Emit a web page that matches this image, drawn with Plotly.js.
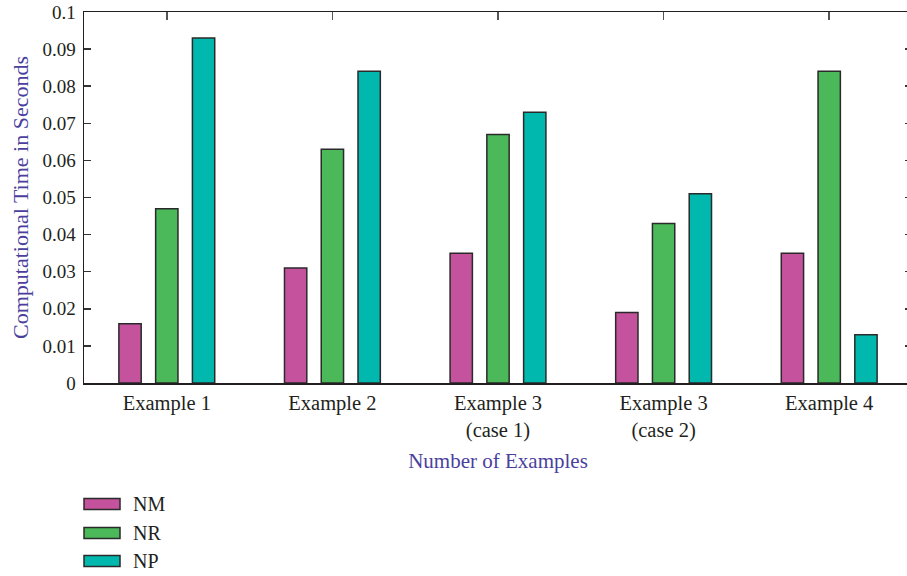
<!DOCTYPE html>
<html>
<head>
<meta charset="utf-8">
<script src="https://cdn.plot.ly/plotly-3.0.1.min.js"></script>
<style>
html,body{margin:0;padding:0;overflow:hidden;background:#fff;}
#chart{width:912px;height:576px;}
</style>
</head>
<body>
<div id="chart"></div>
<script>
const categories = ["Example 1", "Example 2", "Example 3<br>(case 1)", "Example 3<br>(case 2)", "Example 4"];
const seriesNames = ["NM", "NR", "NP"];
const nmValues = [0.016, 0.031, 0.035, 0.019, 0.035];
const nrValues = [0.047, 0.063, 0.067, 0.043, 0.084];
const npValues = [0.093, 0.084, 0.073, 0.051, 0.013];
const seriesColors = ["#c4529c", "#4bb85a", "#00b8ae"];

const allValues = [nmValues, nrValues, npValues];
const FONT = "Liberation Serif";
const TXT = "#231f20";

const traces = allValues.map((vals, i) => ({
  type: "bar",
  name: seriesNames[i],
  x: categories,
  y: vals,
  marker: {color: seriesColors[i], line: {color: "#2a2a2a", width: 1.5}},
  showlegend: false,
  hoverinfo: "x+y+name"
}));

// custom legend (wide swatches) built from the series arrays
const W = 828, H = 371;
const legendY = [504, 533, 561];
const shapes = [];
const annotations = [];
seriesNames.forEach((n, i) => {
  const cy = legendY[i];
  shapes.push({
    type: "rect", xref: "paper", yref: "paper",
    x0: 0, x1: 36 / W,
    y0: (383 - (cy + 5.5)) / H, y1: (383 - (cy - 5.5)) / H,
    fillcolor: seriesColors[i], line: {color: "#2a2a2a", width: 1.5}
  });
  annotations.push({
    xref: "paper", yref: "paper", x: 47 / W, y: (383 - cy) / H,
    xanchor: "left", yanchor: "middle", showarrow: false,
    text: n, font: {family: FONT, size: 20, color: TXT}
  });
});

const layout = {
  width: 912, height: 576,
  margin: {l: 84, r: 0, t: 12, b: 193},
  paper_bgcolor: "#fff", plot_bgcolor: "#fff",
  font: {family: FONT, size: 19, color: TXT},
  barmode: "group",
  bargap: 0.334,
  bargroupgap: 0.393,
  xaxis: {
    type: "category",
    range: [-0.5, 4.5],
    showline: true, linecolor: TXT, linewidth: 1.5,
    mirror: "ticks", ticks: "inside", ticklen: 8, tickwidth: 1.5, tickcolor: "#555",
    layer: "below traces",
    showgrid: false, zeroline: false,
    tickfont: {family: FONT, size: 20.5, color: TXT},
    ticklabelstandoff: 1,
    title: {text: "Number of Examples", font: {family: FONT, size: 21, color: "#4b3f9e"}, standoff: 12},
    automargin: false, fixedrange: true
  },
  yaxis: {
    range: [0, 0.1],
    dtick: 0.01, tick0: 0,
    showline: true, linecolor: TXT, linewidth: 1.5,
    mirror: "ticks", ticks: "inside", ticklen: 7, tickwidth: 1.5, tickcolor: "#333",
    showgrid: false, zeroline: false,
    tickfont: {family: FONT, size: 19, color: TXT},
    ticklabelstandoff: 3,
    title: {text: "Computational Time in Seconds", font: {family: FONT, size: 22, color: "#4b3f9e"}, standoff: 8},
    automargin: false, fixedrange: true
  },
  shapes: shapes,
  annotations: annotations
};

Plotly.newPlot("chart", traces, layout, {displayModeBar: false, staticPlot: true});
</script>
</body>
</html>
